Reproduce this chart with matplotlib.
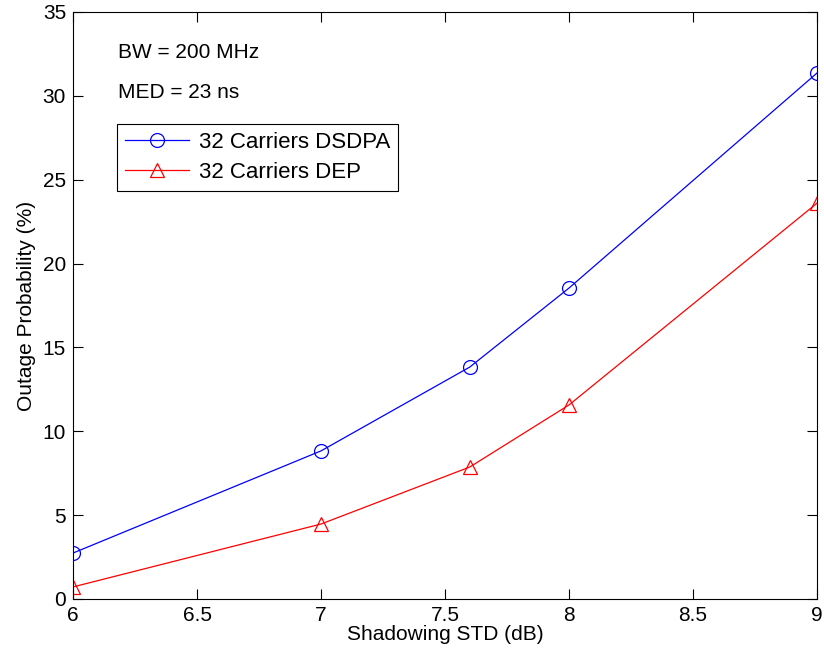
import matplotlib
matplotlib.use('Agg')
import matplotlib.pyplot as plt

std_db = [6, 7, 7.6, 8, 9]
dsdpa = [2.74, 8.83, 13.83, 18.54, 31.36]
dep = [0.72, 4.47, 7.87, 11.57, 23.6]

plt.rcParams['font.family'] = ['Liberation Sans', 'DejaVu Sans']
plt.rcParams['font.size'] = 15

fig = plt.figure(figsize=(8.24, 6.55), dpi=100)
ax = fig.add_axes([0.0886, 0.0855, 0.9029, 0.8962])

ax.plot(std_db, dsdpa, color='blue', lw=0.9, marker='o', ms=10, mfc='none', mew=0.9,
        label='32 Carriers DSDPA')
ax.plot(std_db, dep, color='red', lw=0.9, marker='^', ms=10, mfc='none', mew=0.9,
        label='32 Carriers DEP')

ax.set_xlim(6, 9)
ax.set_ylim(0, 35)
ax.set_xticks([6, 6.5, 7, 7.5, 8, 8.5, 9])
ax.set_xticklabels(['6', '6.5', '7', '7.5', '8', '8.5', '9'])
ax.set_yticks(range(0, 36, 5))
ax.tick_params(direction='in', top=True, right=True, length=7, width=0.8,
               labelsize=15, pad=5)
for s in ax.spines.values():
    s.set_linewidth(0.8)

ax.set_xlabel('Shadowing STD (dB)', labelpad=0)
ax.set_ylabel('Outage Probability (%)', labelpad=5)

ax.text(6.18, 32.6, 'BW = 200 MHz', va='center')
ax.text(6.18, 30.2, 'MED = 23 ns', va='center')

leg = ax.legend(loc='upper left', bbox_to_anchor=(0.059, 0.809), fancybox=False,
                edgecolor='black', framealpha=1, handlelength=2.9, handletextpad=0.45,
                borderpad=0.35, labelspacing=0.42, borderaxespad=0, fontsize=16)
leg.get_frame().set_linewidth(0.8)

fig.savefig('out.png', dpi=100)
